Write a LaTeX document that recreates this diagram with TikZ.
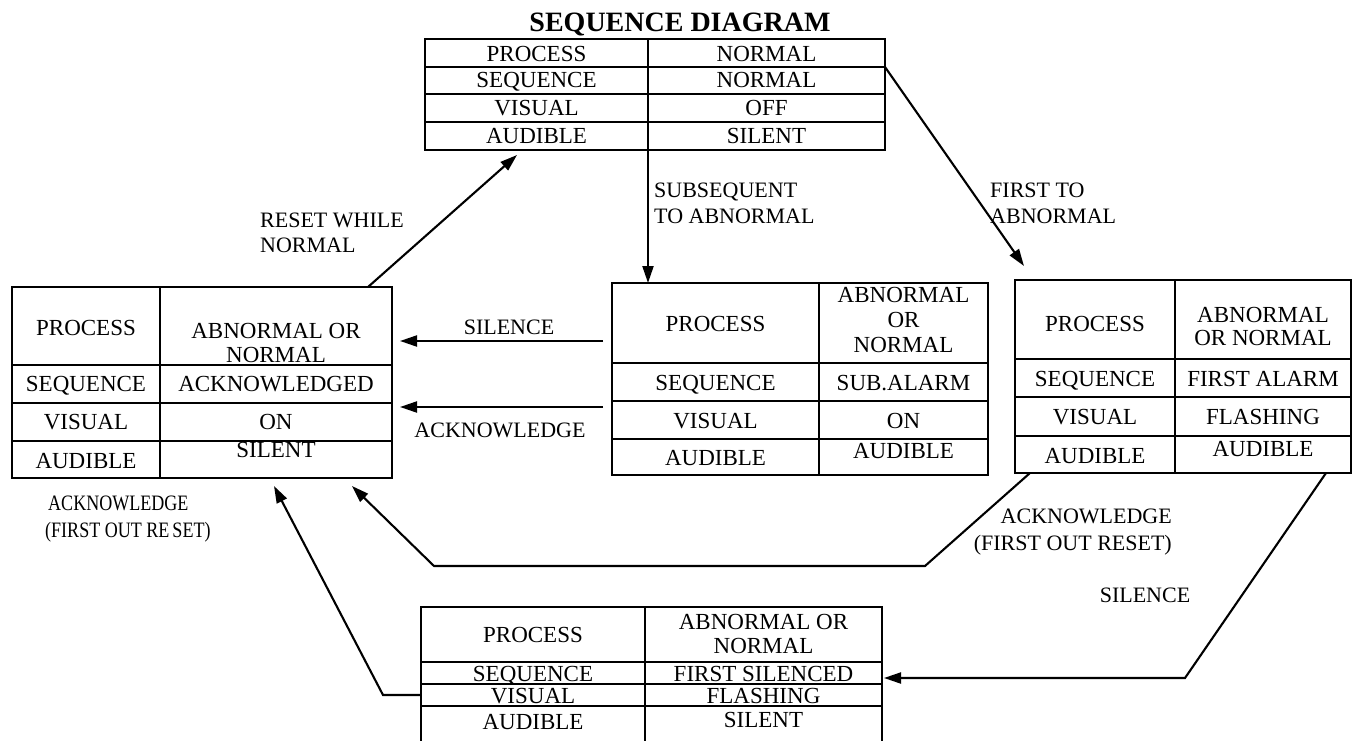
\documentclass[tikz,border=0pt]{standalone}
\usepackage{fontspec}
\setmainfont{Liberation Serif}
\newfontfamily\condfont[FakeStretch=0.82]{Liberation Serif}
\usetikzlibrary{arrows.meta}
\newcommand\tabfont{\fontsize{23}{25}\selectfont}
\newcommand\lblfont{\fontsize{22}{24}\selectfont}
\newcommand\cndfont{\condfont\fontsize{22}{24}\selectfont}
\newcommand\mkcell[5]{%
  \pgfmathsetmacro\tmpW{#4-#2}\pgfmathsetmacro\tmpH{#5-#3}%
  \pgfmathsetmacro\tmpX{(#2+#4)/2}\pgfmathsetmacro\tmpY{(#3+#5)/2}%
  \node[cellst, minimum width=\tmpW pt, minimum height=\tmpH pt] (#1) at (\tmpX,\tmpY) {};}
\newcommand\mktxt[4]{\node[tabtxt] (#1) at (#2,#3) {#4};}
\tikzset{
  cellst/.style={draw, line width=1.5pt, inner sep=0pt, outer sep=0pt},
  tabtxt/.style={anchor=base, inner sep=0pt, font=\tabfont},
  lbl/.style={anchor=base west, inner sep=0pt, font=\lblfont},
  arr/.style={line width=2.1pt, -{Triangle[length=17pt,width=11pt]}},
}
\begin{document}
\begin{tikzpicture}[x=1pt,y=-1pt]
\useasboundingbox (0,0) rectangle (1354,741);
% title
\node[anchor=base, inner sep=0pt, font=\fontsize{28}{30}\selectfont\bfseries] (title) at (680,32) {SEQUENCE DIAGRAM};
% ---------- top table
\mkcell{tpa}{425}{39}{648}{67}   \mkcell{tpb}{648}{39}{885}{67}
\mkcell{tsa}{425}{67}{648}{94}   \mkcell{tsb}{648}{67}{885}{94}
\mkcell{tva}{425}{94}{648}{122}  \mkcell{tvb}{648}{94}{885}{122}
\mkcell{taa}{425}{122}{648}{150} \mkcell{tab}{648}{122}{885}{150}
\mktxt{t1}{536.5}{61.5}{PROCESS}  \mktxt{t2}{766.5}{61.5}{NORMAL}
\mktxt{t3}{536.5}{88}{SEQUENCE}   \mktxt{t4}{766.5}{88}{NORMAL}
\mktxt{t5}{536.5}{116}{VISUAL}    \mktxt{t6}{766.5}{116}{OFF}
\mktxt{t7}{536.5}{143}{AUDIBLE}   \mktxt{t8}{766.5}{143}{SILENT}
% ---------- left table
\mkcell{lpa}{12}{287}{160}{365}  \mkcell{lpb}{160}{287}{392}{365}
\mkcell{lsa}{12}{365}{160}{403}  \mkcell{lsb}{160}{365}{392}{403}
\mkcell{lva}{12}{403}{160}{441}  \mkcell{lvb}{160}{403}{392}{441}
\mkcell{laa}{12}{441}{160}{478}  \mkcell{lab}{160}{441}{392}{478}
\mktxt{l1}{86}{335}{PROCESS}
\mktxt{l2}{276}{338}{ABNORMAL OR}
\mktxt{l3}{276}{362}{NORMAL}
\mktxt{l4}{86}{391}{SEQUENCE}    \mktxt{l5}{276}{391}{ACKNOWLEDGED}
\mktxt{l6}{86}{429}{VISUAL}      \mktxt{l7}{276}{429}{ON}
\mktxt{l8}{86}{468}{AUDIBLE}     \mktxt{l9}{276}{457}{SILENT}
% ---------- middle table
\mkcell{mpa}{612}{283}{819}{363} \mkcell{mpb}{819}{283}{988}{363}
\mkcell{msa}{612}{363}{819}{401} \mkcell{msb}{819}{363}{988}{401}
\mkcell{mva}{612}{401}{819}{439} \mkcell{mvb}{819}{401}{988}{439}
\mkcell{maa}{612}{439}{819}{475} \mkcell{mab}{819}{439}{988}{475}
\mktxt{m1}{715.5}{331}{PROCESS}
\mktxt{m2}{903.5}{302}{ABNORMAL}
\mktxt{m3}{903.5}{327}{OR}
\mktxt{m4}{903.5}{352}{NORMAL}
\mktxt{m5}{715.5}{390}{SEQUENCE}  \mktxt{m6}{903.5}{390}{SUB.ALARM}
\mktxt{m7}{715.5}{428}{VISUAL}    \mktxt{m8}{903.5}{428}{ON}
\mktxt{m9}{715.5}{465}{AUDIBLE}   \mktxt{m10}{903.5}{458}{AUDIBLE}
% ---------- right table
\mkcell{rpa}{1015}{280}{1175}{359} \mkcell{rpb}{1175}{280}{1351}{359}
\mkcell{rsa}{1015}{359}{1175}{397} \mkcell{rsb}{1175}{359}{1351}{397}
\mkcell{rva}{1015}{397}{1175}{436} \mkcell{rvb}{1175}{397}{1351}{436}
\mkcell{raa}{1015}{436}{1175}{473} \mkcell{rab}{1175}{436}{1351}{473}
\mktxt{r1}{1095}{331}{PROCESS}
\mktxt{r2}{1263}{322}{ABNORMAL}
\mktxt{r3}{1263}{345}{OR NORMAL}
\mktxt{r4}{1095}{386}{SEQUENCE}   \mktxt{r5}{1263}{386}{FIRST ALARM}
\mktxt{r6}{1095}{424}{VISUAL}     \mktxt{r7}{1263}{424}{FLASHING}
\mktxt{r8}{1095}{463}{AUDIBLE}    \mktxt{r9}{1263}{456}{AUDIBLE}
% ---------- bottom table
\mkcell{bpa}{421}{607}{645}{662} \mkcell{bpb}{645}{607}{882}{662}
\mkcell{bsa}{421}{662}{645}{684} \mkcell{bsb}{645}{662}{882}{684}
\mkcell{bva}{421}{684}{645}{706} \mkcell{bvb}{645}{684}{882}{706}
\mkcell{baa}{421}{706}{645}{748} \mkcell{bab}{645}{706}{882}{748}
\mktxt{b1}{533}{642}{PROCESS}
\mktxt{b2}{763.5}{629}{ABNORMAL OR}
\mktxt{b3}{763.5}{653}{NORMAL}
\mktxt{b4}{533}{681}{SEQUENCE}    \mktxt{b5}{763.5}{681}{FIRST SILENCED}
\mktxt{b6}{533}{703}{VISUAL}      \mktxt{b7}{763.5}{703}{FLASHING}
\mktxt{b8}{533}{729}{AUDIBLE}     \mktxt{b9}{763.5}{727}{SILENT}
% ---------- connector end points
\coordinate (c1) at (368,287);  \coordinate (c2) at (517,155);
\coordinate (c4) at (1024,266);
\coordinate (c5) at (603,341);  \coordinate (c6) at (400,341);
\coordinate (c7) at (603,407);  \coordinate (c8) at (400,407);
\coordinate (c9) at (1030,473); \coordinate (c10) at (925,566);
\coordinate (c11) at (434,566); \coordinate (c12) at (352,486);
\coordinate (c13) at (383,695); \coordinate (c14) at (274,486);
\coordinate (c15) at (1326,473); \coordinate (c16) at (1185,678);
\coordinate (c17) at (884,678);
% ---------- connectors
\draw[arr] (c1) -- (c2);
\draw[arr] ([yshift=-3pt]tpa.south east) -- (tpa.south east |- mpa.north);
\draw[arr] (tpb.south east) -- (c4);
\draw[arr] (c5) -- (c6);
\draw[arr] (c7) -- (c8);
\draw[arr] (c9) -- (c10) -- (c11) -- (c12);
\draw[arr] (bva.west) -- (c13) -- (c14);
\draw[arr] (c15) -- (c16) -- (c17);
% ---------- labels
\node[lbl] (g1) at (260,227) {RESET WHILE};
\node[lbl] (g2) at (260,252) {NORMAL};
\node[lbl] (g3) at (654,197) {SUBSEQUENT};
\node[lbl] (g4) at (654,223) {TO ABNORMAL};
\node[lbl] (g5) at (990,197) {FIRST TO};
\node[lbl] (g6) at (990,223) {ABNORMAL};
\node[lbl, anchor=base] (g7) at (509,334) {SILENCE};
\node[lbl, anchor=base] (g8) at (500,437) {ACKNOWLEDGE};
\node[lbl, font=\cndfont] (g9) at (48,510) {ACKNOWLEDGE};
\node[lbl, font=\cndfont] (g10) at (45,537) {(FIRST OUT RE\hspace{3pt}SET)};
\node[lbl, anchor=base east] (g11) at (1172,523) {ACKNOWLEDGE};
\node[lbl, anchor=base east] (g12) at (1172,550) {(FIRST OUT RESET)};
\node[lbl, anchor=base] (g13) at (1145,602) {SILENCE};
\end{tikzpicture}
\end{document}
